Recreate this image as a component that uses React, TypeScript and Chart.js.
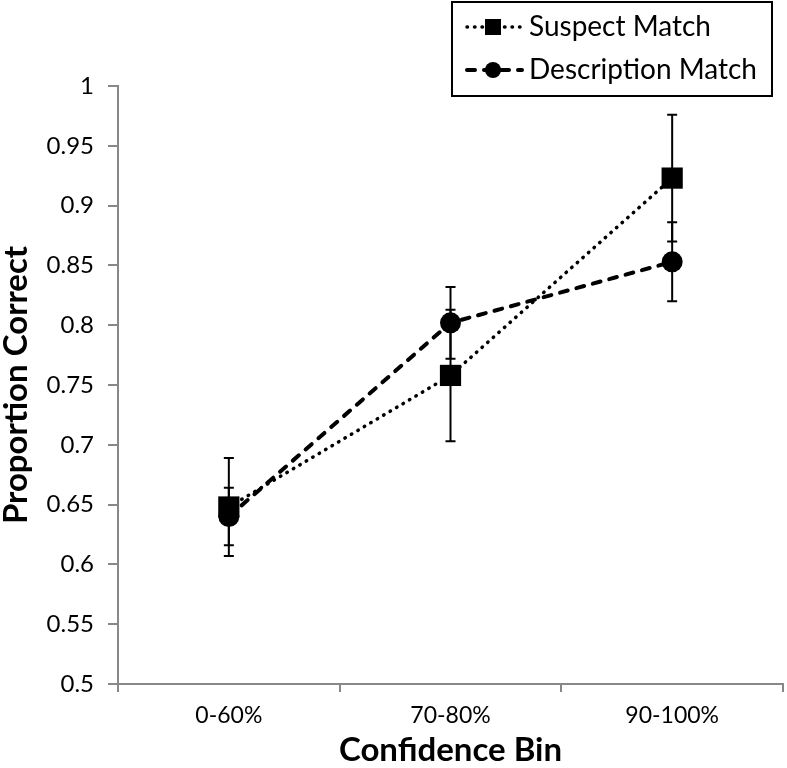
import React, { useEffect, useRef } from "react";
import { Chart, registerables } from "chart.js";

Chart.register(...registerables);

const categories = ["0-60%", "70-80%", "90-100%"];
const suspectValues = [0.648, 0.758, 0.923];
const suspectErrors = [0.041, 0.055, 0.053];
const descriptionValues = [0.640, 0.802, 0.853];
const descriptionErrors = [0.024, 0.030, 0.033];
const seriesNames = ["Suspect Match", "Description Match"];
const yTitle = "Proportion Correct";
const xTitle = "Confidence Bin";

const FONT = "Lato, 'Open Sans', sans-serif";

const errorBarPlugin = {
  id: "errorBars",
  afterDatasetsDraw(chart: any) {
    const ctx = chart.ctx;
    const y = chart.scales.y;
    chart.data.datasets.forEach((ds: any, i: number) => {
      const meta = chart.getDatasetMeta(i);
      const errs: number[] = ds.errors || [];
      meta.data.forEach((pt: any, j: number) => {
        const v = ds.data[j];
        const e = errs[j];
        const x = pt.x;
        const yt = y.getPixelForValue(v + e);
        const yb = y.getPixelForValue(v - e);
        ctx.save();
        ctx.strokeStyle = "#000";
        ctx.lineWidth = 2;
        ctx.beginPath();
        ctx.moveTo(x, yt);
        ctx.lineTo(x, yb);
        ctx.moveTo(x - 5, yt);
        ctx.lineTo(x + 5, yt);
        ctx.moveTo(x - 5, yb);
        ctx.lineTo(x + 5, yb);
        ctx.stroke();
        ctx.restore();
      });
    });
  },
};

const legendPlugin = {
  id: "customLegend",
  afterDraw(chart: any) {
    const ctx = chart.ctx;
    const bx = 452, by = 2, bw = 320, bh = 94;
    ctx.save();
    ctx.fillStyle = "#fff";
    ctx.fillRect(bx, by, bw, bh);
    ctx.strokeStyle = "#000";
    ctx.lineWidth = 2;
    ctx.strokeRect(bx, by, bw, bh);
    const rows = [27, 70];
    chart.data.datasets.forEach((ds: any, i: number) => {
      const ry = rows[i];
      ctx.strokeStyle = "#000";
      ctx.lineWidth = ds.borderWidth;
      ctx.lineCap = ds.borderCapStyle || "butt";
      ctx.setLineDash(ds.borderDash);
      ctx.beginPath();
      ctx.moveTo(467, ry);
      ctx.lineTo(522, ry);
      ctx.stroke();
      ctx.setLineDash([]);
      ctx.fillStyle = "#000";
      if (ds.pointStyle === "rect") {
        ctx.fillRect(485, ry - 8, 16, 16);
      } else {
        ctx.beginPath();
        ctx.arc(493, ry, 8, 0, Math.PI * 2);
        ctx.fill();
      }
      ctx.font = "28px " + FONT;
      ctx.textBaseline = "middle";
      ctx.textAlign = "left";
      ctx.fillText(ds.label, 529, ry);
    });
    ctx.restore();
  },
};

export default function App() {
  const ref = useRef<HTMLCanvasElement>(null);
  useEffect(() => {
    document.body.style.margin = "0";
    const chart = new Chart(ref.current!, {
      type: "line",
      data: {
        labels: categories,
        datasets: [
          {
            label: seriesNames[0],
            data: suspectValues,
            errors: suspectErrors,
            borderColor: "#000",
            backgroundColor: "#000",
            borderWidth: 3.5,
            borderDash: [0.5, 7],
            borderCapStyle: "round",
            pointStyle: "rect",
            pointRadius: 15,
            pointBackgroundColor: "#000",
            pointBorderColor: "#000",
            pointBorderWidth: 0,
          } as any,
          {
            label: seriesNames[1],
            data: descriptionValues,
            errors: descriptionErrors,
            borderColor: "#000",
            backgroundColor: "#000",
            borderWidth: 4,
            borderDash: [8, 9],
            borderCapStyle: "round",
            pointStyle: "circle",
            pointRadius: 10.5,
            pointBackgroundColor: "#000",
            pointBorderColor: "#000",
            pointBorderWidth: 0,
          } as any,
        ],
      },
      options: {
        animation: false,
        responsive: false,
        layout: { autoPadding: false, padding: { top: 86, right: 4, left: 0, bottom: 0 } },
        plugins: { legend: { display: false }, tooltip: { enabled: false } },
        scales: {
          x: {
            offset: true,
            grid: {
              offset: true,
              drawOnChartArea: false,
              drawTicks: true,
              tickLength: 8,
              color: "#888",
              lineWidth: 2,
            },
            border: { color: "#888", width: 2 },
            ticks: { color: "#000", font: { family: FONT, size: 23 }, padding: 10 },
            title: {
              display: true,
              text: xTitle,
              color: "#000",
              font: { family: FONT, size: 33, weight: "bold" },
              padding: { top: -2, bottom: -2 },
            },
            afterFit: (s: any) => {
              s.height = 84;
              s.paddingLeft = 0;
              s.paddingRight = 0;
            },
          },
          y: {
            min: 0.5,
            max: 1,
            ticks: {
              stepSize: 0.05,
              color: "#000",
              font: { family: FONT, size: 24 },
              padding: 14,
              callback: (v: any) => String(Math.round(Number(v) * 100) / 100),
            },
            grid: {
              drawOnChartArea: false,
              drawTicks: true,
              tickLength: 10,
              color: "#888",
              lineWidth: 2,
            },
            border: { color: "#888", width: 2 },
            title: {
              display: true,
              text: yTitle,
              color: "#000",
              font: { family: FONT, size: 33, weight: "bold" },
              padding: { top: -3, bottom: 0 },
            },
            afterFit: (s: any) => {
              s.width = 118;
              s.paddingTop = 0;
              s.paddingBottom = 0;
            },
          },
        },
      } as any,
      plugins: [errorBarPlugin, legendPlugin],
    });
    return () => chart.destroy();
  }, []);
  return (
    <div style={{ width: 787, height: 768 }}>
      <canvas ref={ref} width={787} height={768} />
    </div>
  );
}
